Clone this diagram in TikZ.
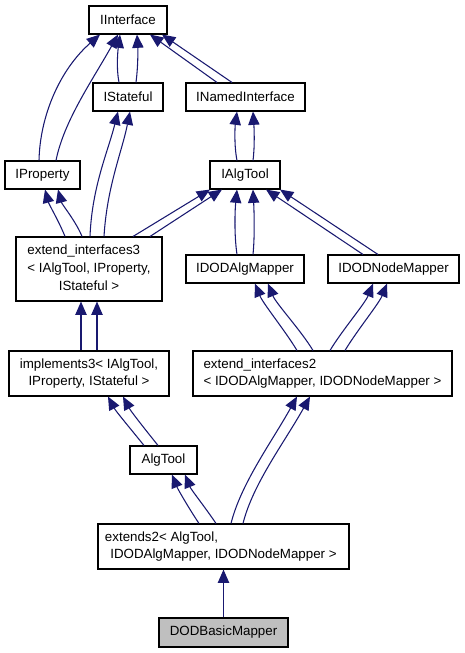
\documentclass[tikz,border=0pt]{standalone}
\usepackage{fontspec}
\setmainfont{Liberation Sans}
\usetikzlibrary{arrows.meta,calc}
\definecolor{edgeblue}{HTML}{191970}
\definecolor{grayfill}{HTML}{BFBFBF}
\begin{document}
\begin{tikzpicture}[x=0.75pt,y=0.75pt,
  cls/.style={draw=black, line width=0.8pt, fill=white, inner sep=0pt,
    font=\fontsize{10}{13.3}\selectfont, align=center},
  sz/.style 2 args={minimum width=#1*0.75pt, minimum height=#2*0.75pt},
  edge/.style={draw=edgeblue, line width=0.8pt, -{Triangle[length=10pt,width=8.5pt]}}]
\useasboundingbox (0,0) rectangle (464,-653);

% nodes
\node[cls, sz={78}{28}] (ii) at (128,-20) {IInterface};
\node[cls, sz={70}{28}] (ist) at (128,-97) {IStateful};
\node[cls, sz={119}{28}] (ini) at (245.5,-97) {INamedInterface};
\node[cls, sz={75}{28}] (ip) at (42.5,-175) {IProperty};
\node[cls, sz={70}{28}] (iat) at (245,-175) {IAlgTool};
\node[cls, sz={146}{64}] (ei3) at (89,-269)
  {\begin{tabular}{@{}l@{}}extend\_interfaces3\\< IAlgTool, IProperty,\\\multicolumn{1}{@{}c@{}}{IStateful >}\end{tabular}};
\node[cls, sz={118}{28}] (idam) at (245,-269) {IDODAlgMapper};
\node[cls, sz={131}{28}] (idnm) at (393.5,-269) {IDODNodeMapper};
\node[cls, sz={160}{45}] (im3) at (89,-373.5)
  {\begin{tabular}{@{}l@{}}implements3< IAlgTool,\\\multicolumn{1}{@{}c@{}}{IProperty, IStateful >}\end{tabular}};
\node[cls, sz={259}{45}] (ei2) at (322.5,-373.5)
  {\begin{tabular}{@{}l@{}}extend\_interfaces2\\\multicolumn{1}{@{}c@{}}{< IDODAlgMapper, IDODNodeMapper >}\end{tabular}};
\node[cls, sz={67}{28}] (at) at (163.5,-460) {AlgTool};
\node[cls, sz={251}{45}] (ex2) at (223.5,-546.5)
  {\begin{tabular}{@{}l@{}}\hspace{-4pt}extends2< AlgTool,\\\multicolumn{1}{@{}c@{}}{IDODAlgMapper, IDODNodeMapper >}\end{tabular}};
\node[cls, sz={129}{29}, fill=grayfill] (dbm) at (223.5,-632.5) {DODBasicMapper};

% edges
\draw[edge] ($(ip.north)+(-3.5,0)$) .. controls +(1,45) and +(-40,-35) .. ($(ii.south)+(-28,0)$);
\draw[edge] ($(ip.north)+(13.5,0)$) .. controls +(8,40) and +(-25,-45) .. ($(ii.south)+(-10,0)$);
\draw[edge] ($(ist.north)+(-9,0)$) .. controls +(-3,15) and +(-2,-15) .. ($(ii.south)+(-8,0)$);
\draw[edge] ($(ist.north)+(8,0)$) .. controls +(2,15) and +(1,-15) .. ($(ii.south)+(9,0)$);
\draw[edge] ($(ini.north)+(-28.5,0)$) -- ($(ii.south)+(22,0)$);
\draw[edge] ($(ini.north)+(-13.5,0)$) -- ($(ii.south)+(34,0)$);
\draw[edge] ($(iat.north)+(-8,0)$) .. controls +(-3,15) and +(-2,-15) .. ($(ini.south)+(-8.5,0)$);
\draw[edge] ($(iat.north)+(8,0)$) .. controls +(2,15) and +(1,-15) .. ($(ini.south)+(7.5,0)$);
\draw[edge] ($(ei3.north)+(-24,0)$) .. controls +(-6,15) and +(4,-15) .. ($(ip.south)+(2.5,0)$);
\draw[edge] ($(ei3.north)+(-7,0)$) .. controls +(-6,15) and +(4,-15) .. ($(ip.south)+(15.5,0)$);
\draw[edge] ($(ei3.north)+(1,0)$) .. controls +(2,50) and +(-10,-40) .. ($(ist.south)+(-10,0)$);
\draw[edge] ($(ei3.north)+(15,0)$) .. controls +(3,50) and +(-8,-40) .. ($(ist.south)+(2,0)$);
\draw[edge] ($(ei3.north)+(44,0)$) -- ($(iat.south)+(-35,0)$);
\draw[edge] ($(ei3.north)+(61,0)$) -- ($(iat.south)+(-23,0)$);
\draw[edge] ($(idam.north)+(-8,0)$) .. controls +(-3,20) and +(-2,-20) .. ($(iat.south)+(-8,0)$);
\draw[edge] ($(idam.north)+(8,0)$) .. controls +(2,20) and +(1,-20) .. ($(iat.south)+(8,0)$);
\draw[edge] ($(idnm.north)+(-30.5,0)$) -- ($(iat.south)+(21,0)$);
\draw[edge] ($(idnm.north)+(-15.5,0)$) -- ($(iat.south)+(35,0)$);
\draw[edge] ($(im3.north)+(-8,0)$) -- ($(ei3.south)+(-8,0)$);
\draw[edge] ($(im3.north)+(8,0)$) -- ($(ei3.south)+(8,0)$);
\draw[edge] ($(ei2.north)+(-25.5,0)$) .. controls +(-12,20) and +(8,-20) .. ($(idam.south)+(10,0)$);
\draw[edge] ($(ei2.north)+(-9.5,0)$) .. controls +(-12,20) and +(8,-20) .. ($(idam.south)+(23,0)$);
\draw[edge] ($(ei2.north)+(7.5,0)$) .. controls +(12,20) and +(-8,-20) .. ($(idnm.south)+(-20.5,0)$);
\draw[edge] ($(ei2.north)+(22.5,0)$) .. controls +(12,20) and +(-8,-20) .. ($(idnm.south)+(-6.5,0)$);
\draw[edge] ($(at.north)+(-19.5,0)$) .. controls +(-12,15) and +(8,-15) .. ($(im3.south)+(19,0)$);
\draw[edge] ($(at.north)+(-5.5,0)$) .. controls +(-12,15) and +(8,-15) .. ($(im3.south)+(34,0)$);
\draw[edge] ($(ex2.north)+(-24.5,0)$) .. controls +(-10,15) and +(6,-15) .. ($(at.south)+(8.5,0)$);
\draw[edge] ($(ex2.north)+(-7.5,0)$) .. controls +(-10,15) and +(6,-15) .. ($(at.south)+(21.5,0)$);
\draw[edge] ($(ex2.north)+(7.5,0)$) .. controls +(10,40) and +(-25,-45) .. ($(ei2.south)+(-25.5,0)$);
\draw[edge] ($(ex2.north)+(19.5,0)$) .. controls +(10,40) and +(-25,-45) .. ($(ei2.south)+(-12.5,0)$);
\draw[edge] (dbm.north) -- (ex2.south);
\end{tikzpicture}
\end{document}
